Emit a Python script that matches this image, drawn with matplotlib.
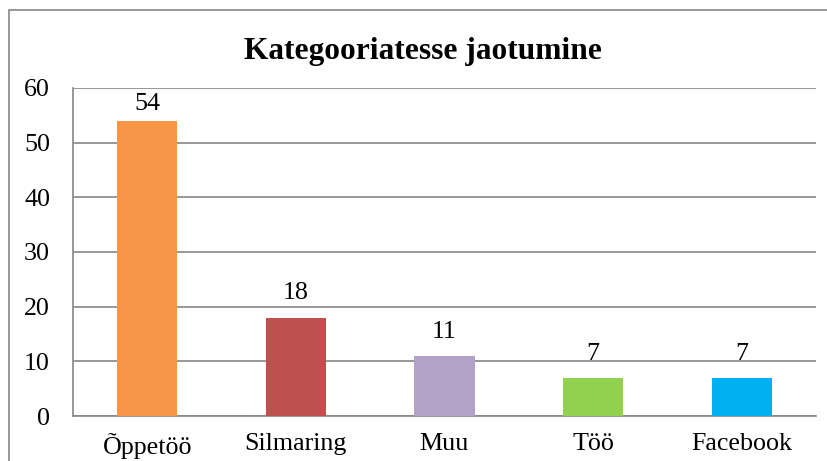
import matplotlib.pyplot as plt
from matplotlib.patches import Rectangle

categories = ['Õppetöö', 'Silmaring', 'Muu', 'Töö', 'Facebook']
values = [54, 18, 11, 7, 7]
colors = ['#F79646', '#C0504D', '#B3A2C7', '#92D050', '#00B0F0']
yticks = [0, 10, 20, 30, 40, 50, 60]

plt.rcParams['font.family'] = ['Liberation Serif', 'DejaVu Serif']

fig = plt.figure(figsize=(8.27, 4.61), dpi=100)
ax = fig.add_axes([73 / 827, 45 / 461, 743 / 827, 328 / 461])

x = range(len(categories))
bars = ax.bar(x, values, width=0.405, color=colors, zorder=3)
for b, v in zip(bars, values):
    # labels sit above the bar, but are kept inside the plot area
    ax.text(b.get_x() + b.get_width() / 2, min(v + 2.4, 55.0), str(v),
            ha='center', va='bottom', fontsize=18.7)

ax.set_xlim(-0.5, len(categories) - 0.5)
ax.set_ylim(0, 60)
ax.set_yticks(yticks)
ax.set_xticks(list(x))
ax.set_xticklabels(categories, fontsize=18.7)
ax.tick_params(axis='y', labelsize=18.7, length=0, pad=16.5)
ax.tick_params(axis='x', length=0, pad=12)
ax.grid(axis='y', color='#868686', linewidth=1.2, zorder=0)

for s in ['top', 'right']:
    ax.spines[s].set_visible(False)
for s in ['left', 'bottom']:
    ax.spines[s].set_color('#868686')
    ax.spines[s].set_linewidth(1.2)

fig.text(423 / 827, 1 - 51 / 461, 'Kategooriatesse jaotumine',
         ha='center', va='center', fontsize=22.6, fontweight='bold')

# outer chart frame
fig.patches.append(Rectangle((9 / 827, -0.05), 1.0, 1 - 10 / 461 + 0.05,
                             transform=fig.transFigure, fill=False,
                             edgecolor='#868686', linewidth=1.2))

fig.savefig('out.png', dpi=100)
